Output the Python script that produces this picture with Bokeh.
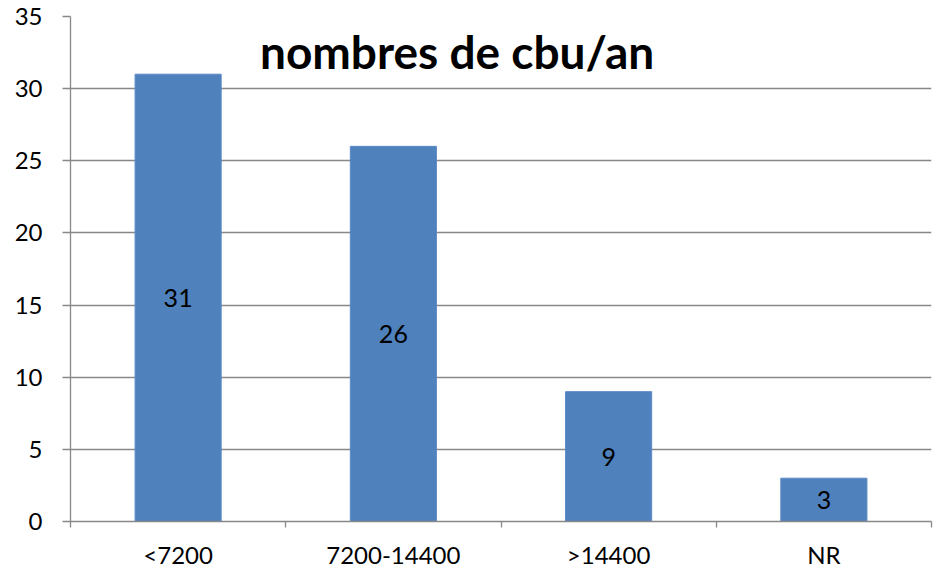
from bokeh.plotting import figure
from bokeh.models import Range1d, FixedTicker, Label, ColumnDataSource
from bokeh.core.properties import value
from bokeh.embed import file_html
from bokeh.resources import INLINE

categories = ["<7200", "7200-14400", ">14400", "NR"]
counts = [31, 26, 9, 3]
y_ticks = [0, 5, 10, 15, 20, 25, 30, 35]
title_text = "nombres de cbu/an"

FONT = "Lato"
GRAY = "#888888"

positions = [i + 0.5 for i in range(len(categories))]
boundaries = list(range(len(categories) + 1))

src = ColumnDataSource(dict(
    x=positions,
    top=counts,
    mid=[c / 2 for c in counts],
    label=[str(c) for c in counts],
))

p = figure(width=936, height=571,
           x_range=Range1d(0, len(categories)), y_range=Range1d(y_ticks[0], y_ticks[-1]),
           output_backend="svg", toolbar_location=None,
           min_border_left=70, min_border_right=5, min_border_top=16, min_border_bottom=50)
p.outline_line_color = None
p.background_fill_color = "white"

p.vbar(x="x", top="top", width=0.4, source=src,
       fill_color="#4F81BD", line_color="#5B8AC6", line_width=1)
p.text(x="x", y="mid", text="label", source=src,
       text_align="center", text_baseline="middle",
       text_font=value(FONT), text_font_size="25px", text_color="black")

# grid
p.xgrid.grid_line_color = None
p.ygrid.ticker = FixedTicker(ticks=y_ticks)
p.ygrid.grid_line_color = GRAY
p.ygrid.grid_line_width = 1.3

# y axis
ya = p.yaxis[0]
ya.ticker = FixedTicker(ticks=y_ticks)
ya.axis_line_color = GRAY
ya.axis_line_width = 1.3
ya.major_tick_line_color = GRAY
ya.major_tick_line_width = 1.3
ya.major_tick_out = 8
ya.major_tick_in = 0
ya.minor_tick_line_color = None
ya.major_label_standoff = 20
ya.major_label_text_font = FONT
ya.major_label_text_font_size = "24px"
ya.major_label_text_color = "black"

# x axis
xa = p.xaxis[0]
xa.ticker = FixedTicker(ticks=positions, minor_ticks=boundaries)
xa.major_label_overrides = {pos: cat for pos, cat in zip(positions, categories)}
xa.axis_line_color = GRAY
xa.axis_line_width = 1.3
xa.major_tick_line_color = None
xa.major_tick_out = 0
xa.major_tick_in = 0
xa.minor_tick_line_color = GRAY
xa.minor_tick_line_width = 1.3
xa.minor_tick_out = 6
xa.minor_tick_in = 0
xa.major_label_standoff = 12
xa.major_label_text_font = FONT
xa.major_label_text_font_size = "24px"
xa.major_label_text_color = "black"

p.add_layout(Label(x=1.796, y=32.6, text=title_text, text_font=FONT,
                   text_font_style="bold", text_font_size="46px",
                   text_align="center", text_baseline="alphabetic",
                   text_color="black"))

open("out.html", "w").write(file_html(p, INLINE))
